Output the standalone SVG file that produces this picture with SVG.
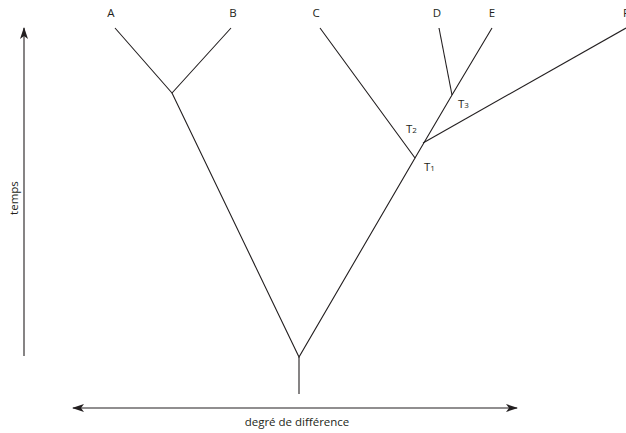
<svg xmlns="http://www.w3.org/2000/svg" width="626" height="433" viewBox="0 0 626 433">
<style>
.l{stroke:#231f20;stroke-width:1.1;fill:none}
text{font-family:"Open Sans","Noto Sans",sans-serif;font-size:11.5px;fill:#231f20}
.s{font-size:8px}
</style>
<defs>
<marker id="ah" viewBox="0 0 12 8" refX="11" refY="4" markerWidth="12" markerHeight="8" markerUnits="userSpaceOnUse" orient="auto-start-reverse">
<path d="M0,0 L12,4 L0,8 L3,4 Z" fill="#231f20"/>
</marker>
</defs>
<rect width="626" height="433" fill="#fff"/>
<g id="connectors">
<polyline class="l" points="115,28 172,93 231,28"/>
<polyline class="l" points="172,93 299,357 415,158 320,28"/>
<polyline class="l" points="415,158 452,95 492,28"/>
<line class="l" x1="452" y1="95" x2="439" y2="28"/>
<line class="l" x1="423" y1="143" x2="626" y2="28"/>
<line class="l" x1="299" y1="357" x2="299" y2="394"/>
</g>
<g id="axes">
<line class="l" x1="24" y1="356" x2="24" y2="28" marker-end="url(#ah)"/>
<line class="l" x1="73" y1="408" x2="517" y2="408" marker-start="url(#ah)" marker-end="url(#ah)"/>
<text x="18" y="198" text-anchor="middle" transform="rotate(-90 18 198)">temps</text>
<text x="297" y="426" text-anchor="middle">degré de différence</text>
</g>
<g id="A"><text x="111" y="17" text-anchor="middle">A</text></g>
<g id="B"><text x="233" y="17" text-anchor="middle">B</text></g>
<g id="C"><text x="316" y="17" text-anchor="middle">C</text></g>
<g id="D"><text x="437" y="17" text-anchor="middle">D</text></g>
<g id="E"><text x="492" y="17" text-anchor="middle">E</text></g>
<g id="F"><text x="623" y="17">F</text></g>
<g id="T1"><text x="424" y="171">T<tspan class="s">1</tspan></text></g>
<g id="T2"><text x="406" y="133">T<tspan class="s">2</tspan></text></g>
<g id="T3"><text x="458" y="108">T<tspan class="s">3</tspan></text></g>
</svg>
